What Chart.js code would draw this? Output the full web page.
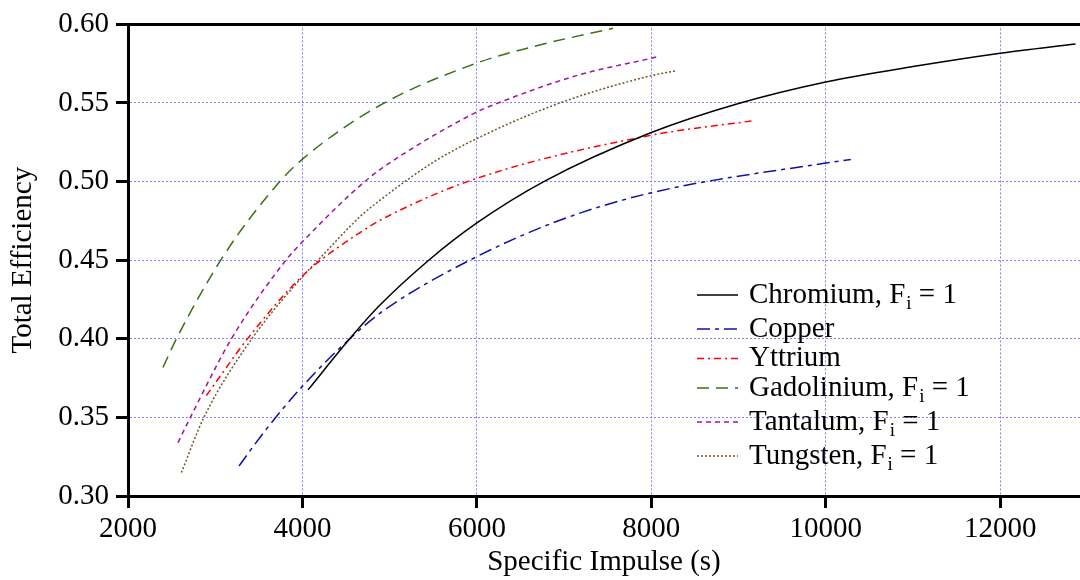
<!DOCTYPE html>
<html><head><meta charset="utf-8">
<script src="https://cdn.jsdelivr.net/npm/chart.js@4.4.1/dist/chart.umd.min.js"></script>
<style>html,body{margin:0;padding:0;background:#fff}#wrap{width:1080px;height:580px}</style>
</head><body><div id="wrap"><canvas id="c" width="1080" height="580"></canvas></div>
<script>
// ---- data ----
const xTicks = [2000, 4000, 6000, 8000, 10000, 12000];
const yTicks = [0.30, 0.35, 0.40, 0.45, 0.50, 0.55, 0.60];

const chromiumX = [4064, 4542, 4886, 5448, 6000, 6767, 8000, 9000, 10000, 11000, 12000, 12864];
const chromiumY = [0.3675, 0.400, 0.4213, 0.450, 0.4737, 0.500, 0.5312, 0.5497, 0.5634, 0.5732, 0.5817, 0.5876];

const copperX = [3273, 3567, 3988, 4542, 4921, 5918, 6951, 8000, 10000, 10287];
const copperY = [0.3191, 0.3412, 0.3691, 0.400, 0.4176, 0.450, 0.4754, 0.4929, 0.5118, 0.5140];

const yttriumX = [2899, 3370, 4000, 4660, 5001, 6000, 8000, 9148];
const yttriumY = [0.3639, 0.400, 0.440, 0.4676, 0.4786, 0.5021, 0.5295, 0.5386];

const gadoliniumX = [2401, 2555, 3101, 3740, 4000, 4886, 6000, 6719, 7562];
const gadoliniumY = [0.3818, 0.400, 0.4533, 0.500, 0.5143, 0.5484, 0.5754, 0.5869, 0.5975];

const tantalumX = [2573, 2715, 3186, 3810, 4000, 4714, 4982, 6000, 6243, 7177, 8000, 8071];
const tantalumY = [0.334, 0.350, 0.400, 0.450, 0.4617, 0.500, 0.5112, 0.5443, 0.550, 0.568, 0.5785, 0.5795];

const tungstenX = [2612, 2870, 3420, 4000, 4179, 4656, 4886, 5497, 6000, 6951, 8000, 8280];
const tungstenY = [0.3149, 0.350, 0.400, 0.4395, 0.450, 0.4775, 0.488, 0.5122, 0.5274, 0.550, 0.5674, 0.5705];

const seriesLabels = ['Chromium, F_i = 1', 'Copper', 'Yttrium', 'Gadolinium, F_i = 1', 'Tantalum, F_i = 1', 'Tungsten, F_i = 1'];

// ---- build ----
const pts = (xs, ys) => xs.map((x, i) => ({x: x, y: ys[i]}));
const styles = [
  {c: '#000000', d: []},
  {c: '#1010a8', d: [13, 5, 4, 5]},
  {c: '#ff0000', d: [7, 4, 2, 4]},
  {c: '#3d7014', d: [12, 7]},
  {c: '#a0139a', d: [5, 4]},
  {c: '#74532a', d: [2, 2]}
];
const allX = [chromiumX, copperX, yttriumX, gadoliniumX, tantalumX, tungstenX];
const allY = [chromiumY, copperY, yttriumY, gadoliniumY, tantalumY, tungstenY];
const datasets = seriesLabels.map((lab, i) => ({
  label: lab,
  data: pts(allX[i], allY[i]),
  borderColor: styles[i].c,
  borderDash: styles[i].d,
  borderWidth: 1.5,
  pointRadius: 0,
  showLine: true,
  fill: false,
  cubicInterpolationMode: 'monotone'
}));

const FONT = "'Liberation Serif', 'Times New Roman', serif";

const frame = {
  id: 'frame',
  afterDatasetsDraw(chart) {
    const {ctx, chartArea: a} = chart;
    ctx.save();
    ctx.strokeStyle = '#000';
    ctx.lineWidth = 3;
    ctx.beginPath();
    ctx.moveTo(a.left - 1.5, a.top);
    ctx.lineTo(a.right + 2, a.top);
    ctx.stroke();
    ctx.restore();
  }
};

const legendBox = {
  id: 'legendBox',
  afterDraw(chart) {
    const ctx = chart.ctx;
    ctx.save();
    let base = 302.7;
    const x0 = 697, x1 = 738, tx = 749;
    chart.data.datasets.forEach((ds, i) => {
      const ly = base - 7.7;
      ctx.strokeStyle = ds.borderColor;
      ctx.lineWidth = 1.5;
      ctx.setLineDash(ds.borderDash);
      ctx.beginPath();
      ctx.moveTo(x0, ly);
      ctx.lineTo(x1, ly);
      ctx.stroke();
      ctx.setLineDash([]);
      ctx.fillStyle = '#000';
      ctx.textBaseline = 'alphabetic';
      ctx.textAlign = 'left';
      const parts = ds.label.split('_i');
      ctx.font = '29px ' + FONT;
      let x = tx;
      ctx.fillText(parts[0], x, base);
      x += ctx.measureText(parts[0]).width;
      const hasSub = parts.length > 1;
      if (hasSub) {
        ctx.font = '19px ' + FONT;
        ctx.fillText('i', x + 1, base + 6.6);
        x += ctx.measureText('i').width + 1;
        ctx.font = '29px ' + FONT;
        ctx.fillText(parts[1], x, base);
      }
      base += 29.5 + (hasSub ? 4.5 : 0);
    });
    ctx.restore();
  }
};

const gridCommon = {
  color: '#8080ff',
  lineWidth: 1,
  tickColor: '#000',
  tickWidth: 3,
  tickLength: 12,
  tickBorderDash: [],
  drawOnChartArea: true,
  drawTicks: true
};
const borderCommon = {display: true, color: '#000', width: 3, dash: [2, 2]};

new Chart(document.getElementById('c'), {
  type: 'scatter',
  data: {datasets: datasets},
  plugins: [frame, legendBox],
  options: {
    responsive: false,
    devicePixelRatio: 1,
    animation: false,
    layout: {padding: {top: 21, right: 0, left: 0, bottom: 0}},
    plugins: {legend: {display: false}, tooltip: {enabled: false}},
    scales: {
      x: {
        type: 'linear',
        min: 2000,
        max: 12915,
        afterBuildTicks: s => { s.ticks = xTicks.map(v => ({value: v})); },
        afterFit: s => { s.height = 84; },
        grid: gridCommon,
        border: borderCommon,
        ticks: {color: '#000', font: {family: FONT, size: 29}, padding: 4, maxRotation: 0, callback: v => String(v)},
        title: {display: true, text: 'Specific Impulse (s)', color: '#000', font: {family: FONT, size: 29}, padding: {top: 0, bottom: 0}}
      },
      y: {
        type: 'linear',
        min: 0.30,
        max: 0.60,
        afterBuildTicks: s => { s.ticks = yTicks.map(v => ({value: v})); },
        afterFit: s => { s.width = 128; },
        grid: gridCommon,
        border: borderCommon,
        ticks: {color: '#000', font: {family: FONT, size: 29}, padding: 7, callback: v => Number(v).toFixed(2)},
        title: {display: true, text: 'Total Efficiency', color: '#000', font: {family: FONT, size: 29}, padding: {top: 6, bottom: 0}}
      }
    }
  }
});
</script>
</body></html>
